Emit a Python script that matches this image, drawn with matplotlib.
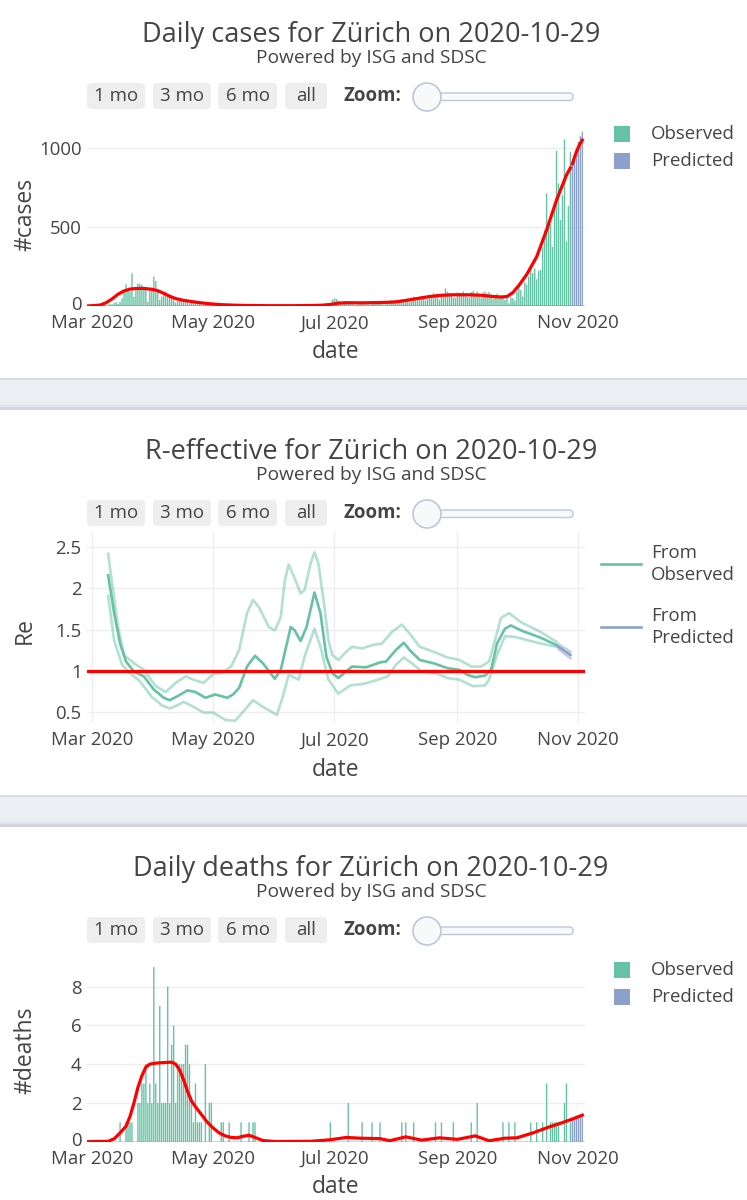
import matplotlib
matplotlib.use("Agg")
import matplotlib.pyplot as plt
import matplotlib.dates as mdates
from matplotlib.patches import FancyBboxPatch, Circle, Rectangle
from matplotlib.transforms import ScaledTranslation
import pandas as pd

plt.rcParams['font.family'] = ['Open Sans', 'DejaVu Sans']

# ---------------- datos ----------------
region = "Zürich"
report_date = "2020-10-29"
obs_start = "2020-02-27"
pred_start = "2020-10-29"

# casos diarios observados (27 feb - 28 oct)
cases_feb = [0, 1, 0]
cases_mar = [0, 1, 2, 1, 3, 4, 6, 3, 8, 12, 10, 18, 25, 13, 27, 49, 97, 137, 101, 91,
             207, 59, 112, 143, 139, 133, 122, 112, 27, 110, 100]
cases_apr = [186, 158, 101, 38, 60, 80, 91, 75, 68, 55, 40, 22, 34, 45, 40, 33, 30, 25, 12, 28,
             27, 24, 21, 22, 15, 9, 17, 19, 15, 13]
cases_may = [10, 8, 4, 6, 12, 9, 8, 7, 5, 3, 6, 8, 7, 6, 5, 3, 4, 6, 5, 4,
             3, 2, 3, 4, 5, 3, 2, 1, 3, 4, 2]
cases_jun = [2, 3, 1, 4, 5, 2, 1, 3, 4, 2, 5, 3, 1, 2, 6, 4, 5, 6, 3, 2,
             7, 8, 10, 6, 4, 12, 15, 18, 10, 40]
cases_jul = [49, 45, 35, 20, 12, 18, 22, 25, 20, 18, 10, 8, 20, 25, 22, 18, 24, 12, 9, 21,
             28, 24, 19, 26, 15, 10, 22, 30, 27, 38, 25]
cases_aug = [30, 20, 35, 42, 38, 45, 50, 25, 30, 59, 55, 40, 48, 60, 52, 35, 45, 58, 65, 80,
             72, 55, 40, 62, 75, 112, 91, 80, 78, 55, 50]
cases_sep = [86, 85, 80, 92, 70, 60, 55, 88, 95, 75, 90, 62, 50, 85, 92, 80, 88, 75, 45, 70,
             78, 68, 60, 50, 38, 55, 17, 58, 50, 35]
cases_oct = [90, 130, 100, 60, 150, 135, 186, 228, 207, 238, 169, 224, 228, 375, 481, 713, 534, 519, 375, 640,
             983, 776, 544, 700, 1055, 407, 633, 975]
cases_pred = [905, 955, 1000, 1040, 1075, 1103]

cases_fit_dates = ["02-27", "03-01", "03-05", "03-08", "03-11", "03-14", "03-17", "03-20", "03-23", "03-27",
                   "03-31", "04-03", "04-06", "04-09", "04-12", "04-16", "04-20", "04-25", "04-30", "05-06",
                   "05-12", "05-20", "05-30", "06-09", "06-19", "06-25", "06-29", "07-03", "07-07", "07-14",
                   "07-24", "07-31", "08-06", "08-12", "08-18", "08-24", "08-30", "09-07", "09-13", "09-19",
                   "09-23", "09-26", "09-29", "10-02", "10-06", "10-11", "10-16", "10-21", "10-26", "10-28"]
cases_fit = [0, 2, 6, 21, 45, 75, 95, 107, 111, 111,
             106, 97, 80, 62, 47, 36, 28, 20, 13, 8,
             5, 3, 2, 2, 3, 5, 10, 18, 21, 20,
             22, 25, 35, 48, 60, 68, 71, 71, 68, 60,
             57, 60, 85, 130, 200, 312, 481, 671, 829, 875]
cases_fit_pred = [900, 940, 975, 1005, 1030, 1050]

# muertes diarias observadas (27 feb - 28 oct)
deaths_feb = [0, 0, 0]
deaths_mar = [0, 0, 0, 0, 0, 0, 0, 0, 0, 0, 0, 0, 0, 0, 1, 0, 0, 1, 1, 1,
              1, 0, 0, 2, 2, 3, 3, 4, 2, 3, 2]
deaths_apr = [9, 3, 2, 7, 2, 2, 2, 8, 2, 5, 6, 2, 4, 4, 4, 4, 5, 5, 4, 2,
              1, 3, 1, 1, 1, 0, 4, 0, 2, 2]
deaths_may = [0, 0, 0, 0, 1, 1, 0, 0, 1, 0, 0, 0, 0, 0, 1, 0, 0, 0, 1, 0,
              1, 1, 0, 0, 0, 0, 0, 0, 0, 0, 0]
deaths_jun = [0, 0, 0, 0, 0, 0, 0, 0, 0, 0, 0, 0, 0, 0, 0, 0, 0, 0, 0, 0,
              0, 0, 0, 0, 0, 0, 0, 0, 1, 0]
deaths_jul = [0, 0, 0, 0, 0, 0, 0, 2, 0, 0, 0, 0, 0, 0, 1, 0, 0, 0, 0, 1,
              0, 0, 0, 1, 0, 0, 0, 0, 0, 0, 0]
deaths_aug = [0, 0, 0, 1, 0, 1, 0, 0, 0, 1, 0, 0, 0, 0, 0, 0, 0, 0, 0, 0,
              1, 0, 0, 1, 0, 0, 0, 0, 0, 1, 0]
deaths_sep = [0, 0, 0, 0, 0, 0, 0, 1, 0, 0, 2, 0, 0, 0, 0, 0, 0, 0, 0, 0,
              0, 0, 0, 1, 0, 0, 1, 0, 0, 1]
deaths_oct = [0, 0, 0, 0, 0, 0, 0, 1, 0, 0, 1, 0, 0, 1, 0, 3, 0, 1, 1, 1,
              1, 1, 0, 0, 2, 3, 0, 1]
deaths_pred = [1.17, 1.2, 1.24, 1.27, 1.3, 1.33]

deaths_fit_dates = ["02-27", "03-09", "03-12", "03-15", "03-18", "03-20", "03-22", "03-24", "03-26", "03-28",
                    "03-30", "04-02", "04-06", "04-10", "04-12", "04-14", "04-16", "04-18", "04-20", "04-22",
                    "04-25", "04-28", "05-01", "05-04", "05-07", "05-10", "05-13", "05-16", "05-19", "05-22",
                    "05-26", "06-01", "06-19", "06-29", "07-07", "07-14", "07-24", "07-29", "08-06", "08-14",
                    "08-23", "09-01", "09-10", "09-17", "09-25", "10-01", "10-09", "10-17", "10-23", "10-28"]
deaths_fit = [0, 0.02, 0.15, 0.45, 0.8, 1.3, 2.0, 2.8, 3.4, 3.85,
              4.0, 4.05, 4.08, 4.1, 4.0, 3.7, 3.2, 2.6, 2.1, 1.8,
              1.4, 1.0, 0.7, 0.45, 0.3, 0.22, 0.2, 0.28, 0.33, 0.22,
              0.06, 0.01, 0.02, 0.1, 0.22, 0.18, 0.16, 0.05, 0.25, 0.08,
              0.2, 0.12, 0.3, 0.05, 0.18, 0.2, 0.45, 0.75, 0.95, 1.13]
deaths_fit_pred = [1.17, 1.21, 1.25, 1.29, 1.33, 1.37]

# R efectivo
re_mean_dates = ["03-09", "03-12", "03-15", "03-18", "03-22", "03-27", "04-01", "04-06", "04-09", "04-13",
                 "04-18", "04-22", "04-27", "05-02", "05-08", "05-11", "05-14", "05-18", "05-22", "05-26",
                 "06-01", "06-04", "06-09", "06-11", "06-14", "06-17", "06-21", "06-24", "06-27", "06-30",
                 "07-03", "07-07", "07-10", "07-17", "07-24", "07-27", "08-01", "08-05", "08-08", "08-13",
                 "08-20", "08-27", "09-02", "09-06", "09-10", "09-15", "09-18", "09-21", "09-25", "09-28",
                 "10-03", "10-13", "10-21"]
re_mean = [2.16, 1.70, 1.33, 1.11, 0.99, 0.93, 0.77, 0.67, 0.64, 0.69,
           0.76, 0.74, 0.67, 0.71, 0.67, 0.71, 0.79, 1.05, 1.18, 1.09,
           0.90, 1.01, 1.53, 1.49, 1.36, 1.53, 1.95, 1.70, 1.17, 0.97,
           0.91, 0.99, 1.05, 1.04, 1.10, 1.11, 1.25, 1.34, 1.25, 1.13,
           1.09, 1.03, 1.01, 0.95, 0.92, 0.94, 1.01, 1.33, 1.51, 1.55,
           1.49, 1.40, 1.31]
re_hi_dates = ["03-09", "03-11", "03-14", "03-17", "03-22", "03-27", "04-02", "04-07", "04-12", "04-17",
               "04-21", "04-26", "05-01", "05-06", "05-10", "05-14", "05-18", "05-21", "05-24", "05-29",
               "06-01", "06-04", "06-06", "06-08", "06-10", "06-14", "06-16", "06-19", "06-21", "06-23",
               "06-26", "06-28", "06-30", "07-03", "07-07", "07-10", "07-15", "07-20", "07-25", "07-30",
               "08-04", "08-08", "08-13", "08-20", "08-27", "09-02", "09-08", "09-13", "09-17", "09-20",
               "09-23", "09-27", "10-03", "10-13", "10-21"]
re_hi = [2.42, 2.06, 1.53, 1.19, 1.09, 1.01, 0.81, 0.74, 0.85, 0.93,
         0.89, 0.85, 0.96, 0.98, 1.05, 1.25, 1.70, 1.86, 1.77, 1.53,
         1.49, 1.65, 2.09, 2.29, 2.18, 1.94, 1.98, 2.30, 2.44, 2.30,
         1.78, 1.37, 1.19, 1.13, 1.23, 1.29, 1.27, 1.31, 1.33, 1.47,
         1.56, 1.45, 1.29, 1.23, 1.16, 1.13, 1.05, 1.05, 1.11, 1.37,
         1.64, 1.70, 1.59, 1.47, 1.35]
re_lo_dates = ["03-09", "03-12", "03-16", "03-20", "03-25", "03-31", "04-05", "04-09", "04-13", "04-16",
               "04-21", "04-26", "05-01", "05-07", "05-12", "05-16", "05-21", "05-26", "06-02", "06-05",
               "06-08", "06-13", "06-16", "06-21", "06-24", "06-28", "07-03", "07-09", "07-16", "07-23",
               "07-28", "08-01", "08-05", "08-09", "08-14", "08-21", "08-27", "09-02", "09-09", "09-15",
               "09-17", "09-21", "09-25", "09-30", "10-13", "10-21"]
re_lo = [1.91, 1.37, 1.07, 0.97, 0.87, 0.68, 0.58, 0.54, 0.58, 0.62,
         0.56, 0.49, 0.49, 0.40, 0.39, 0.50, 0.64, 0.56, 0.46, 0.68,
         0.95, 0.89, 1.17, 1.51, 1.29, 0.89, 0.72, 0.82, 0.84, 0.89,
         0.93, 1.07, 1.16, 1.09, 0.99, 0.97, 0.91, 0.89, 0.81, 0.82,
         0.89, 1.19, 1.42, 1.41, 1.33, 1.29]
re_pred_dates = ["10-22", "10-28"]
re_pred_mean = [1.29, 1.19]
re_pred_hi = [1.32, 1.23]
re_pred_lo = [1.26, 1.15]

legend_bars = ["Observed", "Predicted"]
legend_re = ["From\nObserved", "From\nPredicted"]
buttons = ["1 mo", "3 mo", "6 mo", "all"]

# ---------------- estilo ----------------
W, H = 747, 1200
GREEN = '#66c2a5'
BLUE = '#8da0cb'
RED = '#ff0000'
TXT = '#444444'
GRID = '#eeeeee'
FS = 13.4  # ticks, leyenda, botones


def fechas(lista):
    return pd.to_datetime(["2020-" + d for d in lista])


cases_obs = cases_feb + cases_mar + cases_apr + cases_may + cases_jun + cases_jul + cases_aug + cases_sep + cases_oct
deaths_obs = deaths_feb + deaths_mar + deaths_apr + deaths_may + deaths_jun + deaths_jul + deaths_aug + deaths_sep + deaths_oct
obs_dates = pd.date_range(obs_start, periods=len(cases_obs), freq='D')
pred_dates = pd.date_range(pred_start, periods=len(cases_pred), freq='D')

fig = plt.figure(figsize=(W / 100, H / 100), dpi=100)
bg = fig.add_axes([0, 0, 1, 1])
bg.set_xlim(0, W)
bg.set_ylim(H, 0)
bg.axis('off')

# bandas separadoras
for y0 in [378, 795]:
    bg.add_patch(Rectangle((0, y0), W, 32, fc='#ebeef3', ec='none'))
    bg.add_patch(Rectangle((0, y0), W, 1.5, fc='#d8dbe2', ec='none'))
    bg.add_patch(Rectangle((0, y0 + 27), W, 2, fc='#e0e3ea', ec='none'))
    bg.add_patch(Rectangle((0, y0 + 29), W, 3, fc='#d3d6df', ec='none'))


def cabecera(y0, titulo):
    bg.text(371, y0 + 35, titulo, ha='center', va='center', fontsize=19.5, color=TXT)
    bg.text(371, y0 + 58, "Powered by ISG and SDSC", ha='center', va='center', fontsize=13.8, color=TXT)
    spans = [(87, 145), (153, 211), (218, 277), (285, 327)]
    for (x0, x1), lab in zip(spans, buttons):
        bg.add_patch(FancyBboxPatch((x0, y0 + 83), x1 - x0, 26,
                                    boxstyle="round,pad=0,rounding_size=4", fc='#eeeeee', ec='none'))
        bg.text((x0 + x1) / 2, y0 + 96, lab, ha='center', va='center', fontsize=FS, color=TXT)
    bg.text(343, y0 + 96, "Zoom:", ha='left', va='center', fontsize=FS, fontweight='bold', color=TXT)
    bg.add_patch(FancyBboxPatch((436, y0 + 93), 137, 7.5, boxstyle="round,pad=0,rounding_size=3.5",
                                fc='#f8f9fb', ec='#bec8d9', lw=1))
    bg.add_patch(Circle((427, y0 + 97), 14, fc='#f8f9fb', ec='#bec8d9', lw=1.2))


def leyenda_barras(y0):
    for k, (lab, col) in enumerate(zip(legend_bars, [GREEN, BLUE])):
        yc = y0 + k * 27
        bg.add_patch(Rectangle((614, yc - 8), 16, 16, fc=col, ec='none'))
        bg.text(651, yc, lab, ha='left', va='center', fontsize=FS, color=TXT)


def px_axes(top, bottom, left=86.5, right=584.5):
    return fig.add_axes([left / W, 1 - bottom / H, (right - left) / W, (bottom - top) / H])


xmin = mdates.date2num(pd.Timestamp("2020-03-01")) - 2.92
xmax = mdates.date2num(pd.Timestamp("2020-11-01")) + 3.1


def estilo(ax, ylab, ylab_y, xlab_y):
    ax.set_xlim(xmin, xmax)
    for s in ax.spines.values():
        s.set_visible(False)
    ax.tick_params(length=0, labelsize=FS, colors=TXT)
    ax.tick_params(axis='y', pad=3.5)
    ax.tick_params(axis='x', pad=6)
    ax.xaxis.set_major_locator(mdates.MonthLocator(bymonth=[3, 5, 7, 9, 11]))
    ax.xaxis.set_major_formatter(mdates.DateFormatter('%b %Y'))
    ax.grid(axis='y', color=GRID, lw=1)
    ax.set_axisbelow(True)
    ax.set_ylabel(ylab, fontsize=16.5, color=TXT)
    ax.yaxis.set_label_coords(25, ylab_y, transform=bg.transData)
    ax.yaxis.label.set_va('center')
    ax.set_xlabel("date", fontsize=16.5, color=TXT)
    ax.xaxis.set_label_coords(335.5, xlab_y, transform=bg.transData)
    ax.xaxis.label.set_va('center')


def subir_cero(ax):
    # el "0" del eje y se sube un poco para no pisar "Mar 2020"
    t = ax.yaxis.get_major_ticks()[0]
    t.label1.set_transform(t.label1.get_transform() + ScaledTranslation(0, 2 / 72, fig.dpi_scale_trans))


def barras(ax, obs, pred):
    ax.bar(obs_dates, obs, width=0.7, color=GREEN, lw=0, snap=False, zorder=2)
    ax.bar(pred_dates, pred, width=0.7, color=BLUE, lw=0, snap=False, zorder=2)
    ax.axhline(0, color=TXT, lw=1, zorder=3)


# ---------------- panel 1: casos ----------------
cabecera(0, f"Daily cases for {region} on {report_date}")
ax1 = px_axes(122, 306)
barras(ax1, cases_obs, cases_pred)
ax1.plot(fechas(cases_fit_dates), cases_fit, color=RED, lw=2.3, zorder=4)
ax1.plot(pred_dates, cases_fit_pred, color=RED, lw=2.3, zorder=4)
ax1.set_ylim(0, 1165)
ax1.set_yticks([0, 500, 1000])
estilo(ax1, "#cases", 214, 352)
subir_cero(ax1)
leyenda_barras(134)

# ---------------- panel 2: R efectivo ----------------
cabecera(417, f"R-effective for {region} on {report_date}")
ax2 = px_axes(532, 723)
ax2.plot(fechas(re_hi_dates), re_hi, color=GREEN, alpha=0.5, lw=1.9)
ax2.plot(fechas(re_lo_dates), re_lo, color=GREEN, alpha=0.5, lw=1.9)
ax2.plot(fechas(re_mean_dates), re_mean, color=GREEN, lw=1.9)
ax2.plot(fechas(re_pred_dates), re_pred_hi, color=BLUE, alpha=0.5, lw=1.9)
ax2.plot(fechas(re_pred_dates), re_pred_lo, color=BLUE, alpha=0.5, lw=1.9)
ax2.plot(fechas(re_pred_dates), re_pred_mean, color=BLUE, lw=1.9)
ax2.axhline(1, color=RED, lw=2.3, zorder=4)
ax2.set_ylim(0.363, 2.686)
ax2.set_yticks([0.5, 1, 1.5, 2, 2.5])
ax2.set_yticklabels(["0.5", "1", "1.5", "2", "2.5"])
estilo(ax2, "Re", 630, 770)
ax2.grid(axis='x', color=GRID, lw=1)
for k, (lab, col) in enumerate(zip(legend_re, [GREEN, BLUE])):
    yc = 564 + k * 63
    bg.plot([601, 641], [yc, yc], color=col, lw=1.9)
    bg.text(651, yc, lab, ha='left', va='center', fontsize=FS, color=TXT, linespacing=1.25)

# ---------------- panel 3: muertes ----------------
cabecera(834, f"Daily deaths for {region} on {report_date}")
ax3 = px_axes(958.4, 1141.7)
barras(ax3, deaths_obs, deaths_pred)
ax3.plot(fechas(deaths_fit_dates), deaths_fit, color=RED, lw=2.3, zorder=4)
ax3.plot(pred_dates, deaths_fit_pred, color=RED, lw=2.3, zorder=4)
ax3.set_ylim(0, 9.45)
ax3.set_yticks([0, 2, 4, 6, 8])
estilo(ax3, "#deaths", 1050, 1187)
subir_cero(ax3)
leyenda_barras(970)

fig.savefig("out.png", dpi=100)
